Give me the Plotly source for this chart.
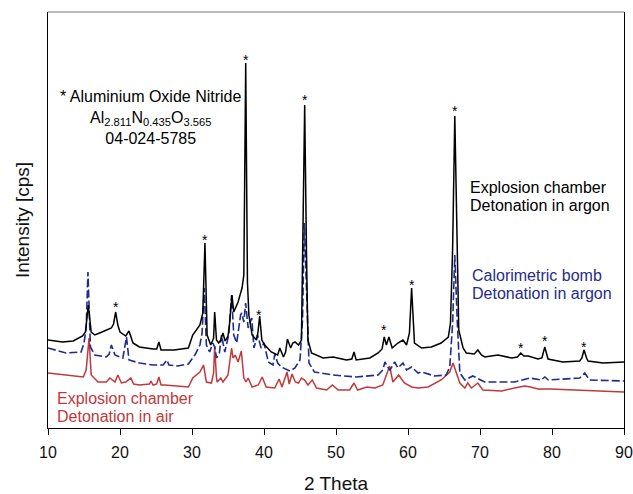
import plotly.graph_objects as go

# ---------------- data (arbitrary intensity units) ----------------
black_theta = [10, 12, 13.5, 14.8, 15.2, 15.6, 16.0, 16.5, 17.5, 18.8, 19.1, 19.4, 19.7, 20.0, 20.8,
               21.25, 21.8, 22.7, 24.6, 25.1, 25.4, 25.7, 26.2, 27.5, 29.5, 30.1, 31.1, 31.5, 31.8,
               32.1, 32.6, 33.0, 33.15, 33.4, 33.7, 34.0, 34.3, 34.6, 35.0, 35.2, 35.55, 35.8, 36.4,
               36.95, 37.2, 37.46, 37.7, 37.9, 38.35, 38.95, 39.15, 39.4, 39.7, 40.1, 41.0, 41.9,
               42.2, 42.7, 43.0, 43.25, 43.7, 44.0, 44.3, 44.8, 45.2, 45.4, 45.65, 45.9, 46.1, 46.6,
               48.2, 49.6, 51.45, 52.2, 52.5, 52.8, 54.7, 55.85, 56.4, 56.7, 57.0, 57.35, 57.8, 58.6,
               59.3, 59.8, 60.2, 60.5, 60.9, 61.9, 63.25, 64.6, 65.6, 65.9, 66.2, 66.5, 66.8, 67.05,
               67.65, 68.1, 69.2, 69.7, 70.2, 70.65, 72.5, 74.4, 75.2, 75.65, 76.1, 76.7, 78.05,
               78.6, 79.0, 79.45, 81.5, 83.85, 84.15, 84.45, 84.8, 85.0, 87.1, 90]
black_int = [88, 86, 87, 92, 96, 123, 96, 93, 96, 100, 104, 116, 103, 96, 92,
             97, 85, 81, 79, 79, 86, 78, 78, 78, 80, 93, 103, 115, 185,
             93, 83, 90, 116, 88, 85, 88, 95, 87, 92, 103, 133, 116, 126,
             140, 153, 365, 146, 113, 93, 88, 95, 112, 88, 83, 76, 73,
             80, 71, 76, 89, 80, 85, 86, 83, 88, 175, 323, 175, 88, 75,
             70, 71, 68, 69, 76, 68, 70, 75, 79, 91, 83, 91, 80, 85,
             88, 83, 95, 140, 85, 80, 81, 85, 91, 105, 180, 312, 200, 98,
             80, 75, 74, 78, 73, 71, 73, 70, 71, 75, 72, 72, 69,
             70, 81, 69, 66, 67, 70, 78, 70, 67, 65, 66]

blue_theta = [10, 12.5, 14.6, 15.0, 15.3, 15.55, 15.8, 15.9, 16.5, 18.1, 18.5, 18.8, 19.3, 20.4,
              20.9, 21.25, 22.7, 24.6, 26.0, 26.5, 26.8, 28.0, 29.5, 30.4, 31.1, 31.4, 31.7, 32.0,
              32.45, 32.9, 33.2, 33.4, 33.8, 34.1, 34.55, 35.1, 35.5, 35.8, 36.2, 36.75, 36.9, 37.2,
              37.45, 37.8, 38.3, 38.6, 39.1, 39.6, 40.0, 40.6, 41.25, 41.5, 41.9, 42.4, 43.6, 44.3,
              45.0, 45.35, 45.6, 45.85, 46.05, 46.25, 47.0, 49.6, 52.8, 55.85, 56.5, 56.8, 57.2,
              57.5, 58.15, 58.6, 59.3, 59.8, 60.5, 61.4, 61.9, 63.7, 65.3, 65.8, 66.2, 66.5, 66.85,
              67.2, 67.9, 69.0, 69.3, 70.65, 74.8, 76.9, 78.5, 79.0, 79.5, 81.5, 83.85, 84.55,
              85.2, 90]
blue_int = [80, 75, 76, 85, 100, 156, 100, 81, 73, 71, 74, 83, 73, 70,
            91, 68, 65, 63, 63, 68, 63, 62, 64, 73, 83, 95, 140, 83,
            76, 85, 80, 70, 75, 93, 76, 93, 133, 93, 85, 113, 115, 106,
            125, 100, 110, 80, 93, 80, 85, 66, 63, 74, 65, 61, 57, 60,
            68, 108, 205, 150, 100, 65, 56, 53, 51, 53, 58, 66, 61,
            58, 66, 60, 65, 58, 61, 55, 56, 52, 53, 61, 105, 173, 105,
            55, 48, 52, 51, 46, 46, 50, 48, 51, 48, 49, 50, 55,
            48, 47]

red_theta = [10, 12.55, 14.9, 15.3, 15.7, 16.0, 16.95, 18.1, 18.6, 19.3, 19.7, 20.2, 20.8, 21.5,
             21.9, 22.7, 24.1, 24.3, 24.6, 25.1, 25.4, 25.7, 26.2, 29.5, 30.1, 31.1, 31.6, 32.0,
             32.7, 33.0, 33.15, 33.4, 33.5, 34.0, 34.3, 35.0, 35.5, 35.7, 36.0, 36.4, 36.85, 37.2,
             37.5, 37.8, 38.35, 39.2, 39.75, 40.3, 41.5, 42.1, 42.5, 43.2, 43.5, 43.9, 44.35, 44.8,
             45.2, 45.65, 46.1, 46.7, 47.3, 48.7, 49.5, 50.3, 51.9, 52.5, 53.0, 54.3, 55.4, 56.5,
             57.1, 57.45, 57.9, 58.7, 59.5, 60.5, 61.4, 62.8, 64.6, 65.8, 66.25, 66.7, 67.2, 67.9,
             68.3, 68.8, 69.7, 70.4, 73.0, 74.8, 76.2, 77.0, 78.05, 79.7, 83.85, 90]
red_int = [55, 53, 51, 58, 90, 53, 46, 46, 50, 46, 53, 45, 46, 50,
           44, 43, 44, 47, 43, 44, 51, 43, 43, 41, 50, 56, 63, 46,
           45, 55, 82, 50, 46, 50, 46, 53, 80, 70, 73, 66, 77, 50,
           46, 50, 41, 43, 51, 41, 40, 49, 41, 56, 44, 54, 46, 45,
           50, 48, 43, 48, 40, 38, 43, 38, 38, 45, 38, 41, 40, 43,
           55, 62, 46, 53, 45, 41, 40, 41, 48, 56, 65, 55, 45, 40,
           45, 40, 45, 38, 37, 40, 42, 41, 39, 39, 38, 36]

# asterisk markers (position of the star glyph)
star_theta = [19.4, 31.8, 37.45, 39.35, 45.65, 56.7, 60.5, 66.5, 75.65, 79.0, 84.5]
star_int = [124, 191, 371, 116, 331, 101, 146, 320, 83, 90, 84]

x_ticks = [10, 20, 30, 40, 50, 60, 70, 80, 90]

BLACK = "#000000"
BLUE = "#1f2c8c"
RED = "#c0393b"
FONT = "Arial, Liberation Sans, sans-serif"

fig = go.Figure()
fig.add_trace(go.Scatter(x=red_theta, y=red_int, mode="lines",
                         line=dict(color=RED, width=1.5), showlegend=False))
fig.add_trace(go.Scatter(x=blue_theta, y=blue_int, mode="lines",
                         line=dict(color=BLUE, width=1.6, dash="8px,3px"), showlegend=False))
fig.add_trace(go.Scatter(x=black_theta, y=black_int, mode="lines",
                         line=dict(color=BLACK, width=1.5), showlegend=False))

annotations = []
for t, v in zip(star_theta, star_int):
    annotations.append(dict(x=t, y=v, xref="x", yref="y", text="*", showarrow=False,
                            font=dict(family=FONT, size=14, color=BLACK), yshift=-3))

annotations.append(dict(x=24.3, y=311, xref="x", yref="y", showarrow=False, align="center",
                        text="* Aluminium Oxide Nitride<br>Al<sub>2.811</sub>N<sub>0.435</sub>O<sub>3.565</sub><br>04-024-5785",
                        font=dict(family=FONT, size=16, color=BLACK)))

def label(x, y, text, color):
    annotations.append(dict(x=x, y=y, xref="x", yref="y", showarrow=False, xanchor="left",
                            text=text, font=dict(family=FONT, size=16, color=color)))

label(68.35, 241, "Explosion chamber", BLACK)
label(68.35, 223, "Detonation in argon", BLACK)
label(68.6, 153, "Calorimetric bomb", BLUE)
label(68.6, 135, "Detonation in argon", BLUE)
label(10.95, 30, "Explosion chamber", RED)
label(10.95, 12, "Detonation in air", RED)

fig.update_layout(
    width=633, height=494,
    margin=dict(l=48, r=9, t=12, b=66),
    paper_bgcolor="white", plot_bgcolor="white",
    font=dict(family=FONT, size=16, color=BLACK),
    annotations=annotations,
    shapes=[dict(type="line", xref="paper", yref="paper", x0=0, x1=1, y0=1, y1=1,
                 line=dict(color="#777777", width=1))],
    xaxis=dict(range=[10, 90], tickvals=x_ticks, ticktext=[str(v) for v in x_ticks],
               showgrid=False, zeroline=False, showline=True, linecolor=BLACK, linewidth=1,
               ticks="outside", ticklen=6, tickcolor=BLACK, ticklabelstandoff=4,
               automargin=False,
               tickfont=dict(family=FONT, size=16, color="#111111"),
               title=dict(text="2 Theta", font=dict(family=FONT, size=19, color="#111111"),
                          standoff=20)),
    yaxis=dict(range=[0, 416], showticklabels=False, ticks="", showgrid=False,
               zeroline=False, showline=True, linecolor=BLACK, linewidth=1, mirror=True,
               automargin=False,
               title=dict(text="Intensity [cps]", font=dict(family=FONT, size=19, color="#111111"),
                          standoff=12)),
)

fig.write_html("out.html")
